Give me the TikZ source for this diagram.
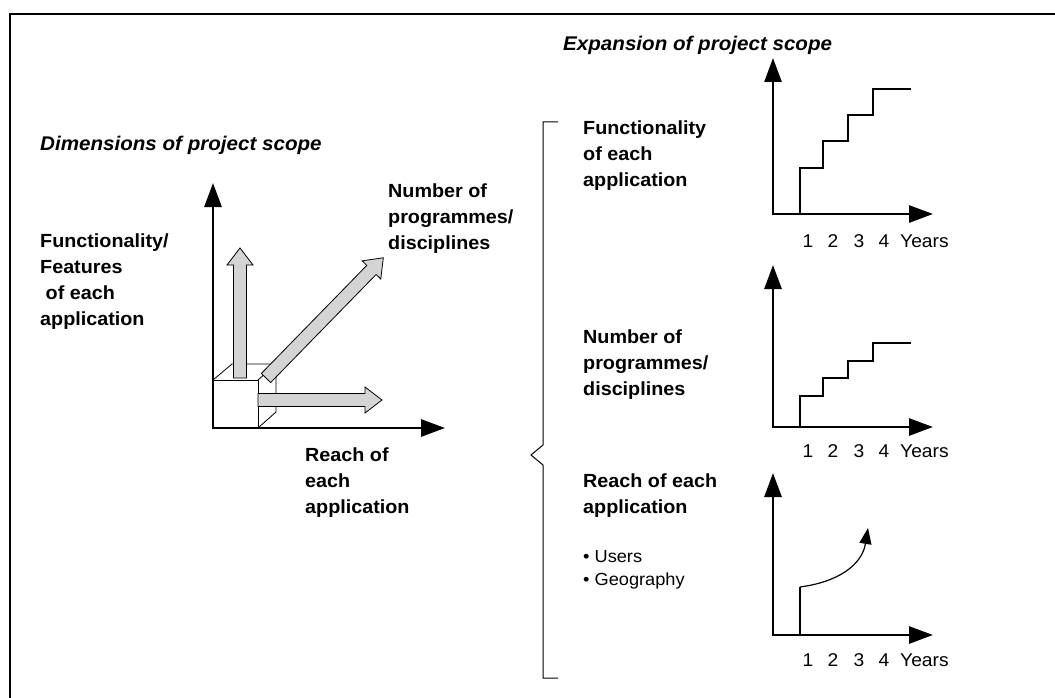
\documentclass[tikz,border=0pt]{standalone}
\usepackage{fontspec}
\setmainfont[FakeStretch=1.04]{Liberation Sans}
\usetikzlibrary{arrows.meta}
\tikzset{
  axisline/.style={line width=2.8pt, line join=miter, {Triangle[length=24pt,width=17pt]}-{Triangle[length=24pt,width=17pt]}},
  stepline/.style={line width=1.2pt},
  grayarrow/.style={draw=black, line width=0.8pt, fill=black!17, line join=miter},
  boldlbl/.style={anchor=west, align=left, inner sep=0pt, font=\fontsize{19}{26}\selectfont\bfseries},
  titlelbl/.style={anchor=west, inner sep=0pt, font=\fontsize{19.8}{22}\selectfont\bfseries\itshape},
  plainlbl/.style={anchor=west, align=left, inner sep=0pt, font=\fontsize{17.5}{23.5}\selectfont},
  yearlbl/.style={inner sep=0pt, font=\fontsize{18.5}{20}\selectfont},
}
\newcommand\myfatarrow[4]{%
  \begin{scope}[shift={(#1,#2)},rotate=#3]
    \draw[grayarrow] (0,-6.5) -- (#4-17,-6.5) -- (#4-17,-13) -- (#4,0) -- (#4-17,13) -- (#4-17,6.5) -- (0,6.5) -- cycle;
  \end{scope}}
\newcommand\myyears[2]{%
  \node[yearlbl] (#2y1) at (808,#1) {1};
  \node[yearlbl] (#2y2) at (833,#1) {2};
  \node[yearlbl] (#2y3) at (859,#1) {3};
  \node[yearlbl] (#2y4) at (884,#1) {4};
  \node[yearlbl, anchor=west] (#2yy) at (900,#1) {Years};}
\begin{document}
\begin{tikzpicture}[x=1pt,y=-1pt]
\useasboundingbox (0,0) rectangle (1055,698);
% frame
\draw[line width=1.6pt] (10,698) -- (10,14) -- (1055,14);

% ---------- left part ----------
\node[titlelbl] (dimtitle) at (40,145) {Dimensions of project scope};
\node[boldlbl] (lfunc) at (40,282) {Functionality/\\Features\\\ of each\\application};
\node[boldlbl] (lnum) at (388,219) {Number of\\programmes/\\disciplines};
\node[boldlbl] (lreach) at (305,483) {Reach of\\each\\application};

% cube
\draw[line width=0.8pt] (213,380) rectangle (258,428);
\draw[line width=0.8pt] (213,380) -- (232,364) -- (276,364) -- (276,412) -- (258,428);
\draw[line width=0.8pt] (258,380) -- (276,364);

% main axes
\draw[axisline] (213,183) -- (213,428) -- (445,428);

% gray arrows
\myfatarrow{240}{378}{90}{130}
\myfatarrow{258}{400}{0}{124}
\myfatarrow{266}{378}{45.7}{168}

% ---------- right part ----------
\node[titlelbl] (exptitle) at (563,45) {Expansion of project scope};
\draw[line width=1pt] (558,122) -- (543,122) -- (543,445) -- (531,455) -- (543,465) -- (543,678) -- (558,678);

\node[boldlbl] (rfunc) at (583,156) {Functionality\\of each\\application};
\node[boldlbl] (rnum) at (583,365) {Number of\\programmes/\\disciplines};
\node[boldlbl] (rreach) at (583,496) {Reach of each\\application};
\node[plainlbl] (rbul) at (583,570) {\textbullet\ Users\\\textbullet\ Geography};

% chart 1
\draw[axisline] (773,58) -- (773,214) -- (933,214);
\draw[stepline] (800,214) -- (800,168) -- (823,168) -- (823,141) -- (848,141) -- (848,115) -- (873,115) -- (873,89) -- (911,89);
\myyears{241}{a}

% chart 2
\draw[axisline] (773,265) -- (773,427) -- (933,427);
\draw[stepline] (800,427) -- (800,396) -- (823,396) -- (823,378) -- (848,378) -- (848,361) -- (873,361) -- (873,343) -- (911,343);
\myyears{451}{b}

% chart 3
\draw[axisline] (773,473) -- (773,635) -- (933,635);
\draw[stepline] (800,635) -- (800,587);
\draw[stepline, -{Triangle[length=16pt,width=12pt]}] (800,587) .. controls (838,582) and (862,565) .. (868,528);
\myyears{660}{c}
\end{tikzpicture}
\end{document}
